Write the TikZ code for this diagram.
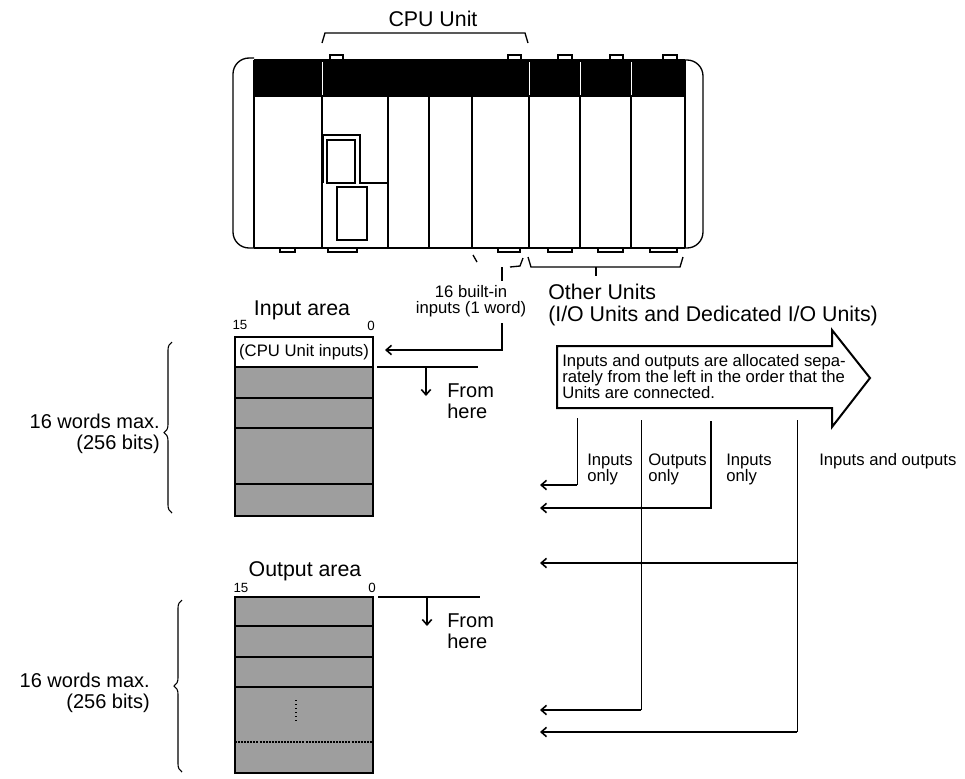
\documentclass[tikz,border=0pt]{standalone}
\usepackage{fontspec}
\setmainfont{Liberation Sans}
\usetikzlibrary{arrows.meta,decorations.pathreplacing}
\begin{document}
\begin{tikzpicture}[x=0.75pt,y=-0.75pt,
  big/.style={font=\fontsize{16}{16.5}\selectfont,inner sep=0pt},
  mid/.style={font=\fontsize{15}{15.5}\selectfont,inner sep=0pt},
  small/.style={font=\fontsize{12.5}{12}\selectfont,inner sep=0pt},
  tiny/.style={font=\fontsize{10}{10}\selectfont,inner sep=0pt},
  thin/.style={line width=0.7pt},
  thick/.style={line width=1.5pt},
  arr/.style={-{Straight Barb[length=4pt,width=7pt,line width=1.2pt]}},
  mem/.style={fill=black!38,draw=black,line width=1.4pt}]
\useasboundingbox (0,0) rectangle (965,779);
% PLC
\draw[line width=1pt,rounded corners=12pt] (254,58) -- (233,58) -- (233,248) -- (254,248);
\draw[line width=1pt,rounded corners=12pt] (685,60) -- (703,60) -- (703,248) -- (685,248);
\fill (254,60) rectangle (685,97);
\draw[line width=1pt] (254,60) -- (685,60);
\draw[line width=1pt] (254,248) -- (685,248);
\foreach \x in {254,322,388,429,472,529,580,631,685}{\draw[line width=1pt] (\x,60) -- (\x,248);}
\foreach \x in {322,529,580,631}{\draw[white,line width=0.6pt] (\x,62) -- (\x,95);}
\draw[line width=1pt] (323,183) -- (323,135) -- (360,135) -- (360,183) -- (388,183);
\draw[line width=1pt] (327,140) rectangle (355,183);
\draw[line width=1pt] (337,187) rectangle (367,240);
\foreach \a/\b in {330/343,508/521,558/572,610/623,663/677}{\draw[line width=0.9pt] (\a,60) -- (\a,55) -- (\b,55) -- (\b,60);}
\foreach \a/\b in {280/295,328/357,498/520,548/572,598/623,650/677}{\draw[line width=0.9pt] (\a,248) -- (\a,252) -- (\b,252) -- (\b,248);}
% CPU brace
\draw[line width=1pt] (322,43) -- (325,33) -- (525,33) -- (528,43);
\node[big] (cpu) at (433,19) {CPU Unit};
% other units brace
\draw[line width=1pt] (528,257) -- (531,267) -- (680,267) -- (683,257);
\draw[line width=1pt] (596,267) -- (596,276);
\draw[line width=1pt] (473,255) -- (477,262);
\draw[line width=1pt] (510,267) -- (520,266) -- (523,258);
\node[small,align=center] (bi) at (471,301) {16 built-in\\inputs (1 word)};
\node[big,align=left,anchor=west] (ou) at (548,305) {Other Units\\(I/O Units and Dedicated I/O Units)};
% Input area
\node[big] (ia) at (302,310) {Input area};
\node[tiny] at (240,325) {15};
\node[tiny] at (371,326) {0};
\draw[mem] (235,367) rectangle (373,516);
\draw[fill=white,line width=1.4pt] (235,337) rectangle (373,367);
\draw[line width=1.4pt,dotted] (235,367) -- (373,367);
\foreach \y in {398,428,484}{\draw[line width=1.4pt] (235,\y) -- (373,\y);}
\node[small] (cpui) at (304,352) {(CPU Unit inputs)};
\coordinate (bt) at (502,267);
\draw[thick] (502,267) -- (502,281);
\coordinate (ib) at (385,350);
\draw[thick,arr] (502,323) -- (502,350) -- (ib);
\draw[thick] (377,367) -- (478,367);
\draw[line width=1pt,arr] (426,367) -- (426,396);
\node[mid,align=left,anchor=west] (fh1) at (447,401) {From\\here};
\draw[line width=0.8pt,decorate,decoration={brace,amplitude=6pt,aspect=0.53,mirror}] (172,342) -- (172,513);
\node[mid,align=right,anchor=east] (w1) at (160,434) {16 words max.\\(256 bits)};
% Output area
\node[big] (oa) at (305,571) {Output area};
\node[tiny] at (241,588) {15};
\node[tiny] at (372,588) {0};
\draw[mem] (235,597) rectangle (373,773);
\foreach \y in {626,657,687}{\draw[line width=1.4pt] (235,\y) -- (373,\y);}
\draw[line width=1.4pt,dash pattern=on 1.5pt off 0.8pt] (235,742) -- (373,742);
\draw[line width=1pt,dotted] (296,700) -- (296,722);
\draw[thick] (378,597) -- (480,597);
\draw[line width=1pt,arr] (427,597) -- (427,626);
\node[mid,align=left,anchor=west] (fh2) at (447,631) {From\\here};
\draw[line width=0.8pt,decorate,decoration={brace,amplitude=6pt,aspect=0.5,mirror}] (182,600) -- (182,772);
\node[mid,align=right,anchor=east] (w2) at (150,693) {16 words max.\\(256 bits)};
% big arrow
\draw[line width=1.5pt,fill=white] (557,346) -- (832,346) -- (832,330) -- (870,378) -- (832,427) -- (832,408) -- (557,408) -- cycle;
\node[small,align=left,anchor=west] (al) at (562,377) {Inputs and outputs are allocated sepa-\\rately from the left in the order that the\\Units are connected.};
% allocation lines
\coordinate (a1) at (540,485);
\coordinate (a2) at (540,508);
\coordinate (a3) at (540,563);
\coordinate (a4) at (540,710);
\coordinate (a5) at (540,732);
\draw[thin] (577,418) -- (577,485);
\draw[line width=1pt,arr] (577,485) -- (a1);
\draw[thin] (641,420) -- (641,710);
\draw[thick,arr] (641,710) -- (a4);
\draw[thick,arr] (711,421) -- (711,508) -- (a2);
\draw[thin] (797,420) -- (797,732);
\draw[thick,arr] (797,732) -- (a5);
\draw[thick,arr] (797,563) -- (a3);
\fill (641,508) circle (1.3);
\fill (641,563) circle (1.3);
\node[small,align=left,anchor=west] (l1) at (587,469) {Inputs\\only};
\node[small,align=left,anchor=west] (l2) at (648,469) {Outputs\\only};
\node[small,align=left,anchor=west] (l3) at (726,469) {Inputs\\only};
\node[small,anchor=west] (l4) at (819,461) {Inputs and outputs};
\end{tikzpicture}
\end{document}
